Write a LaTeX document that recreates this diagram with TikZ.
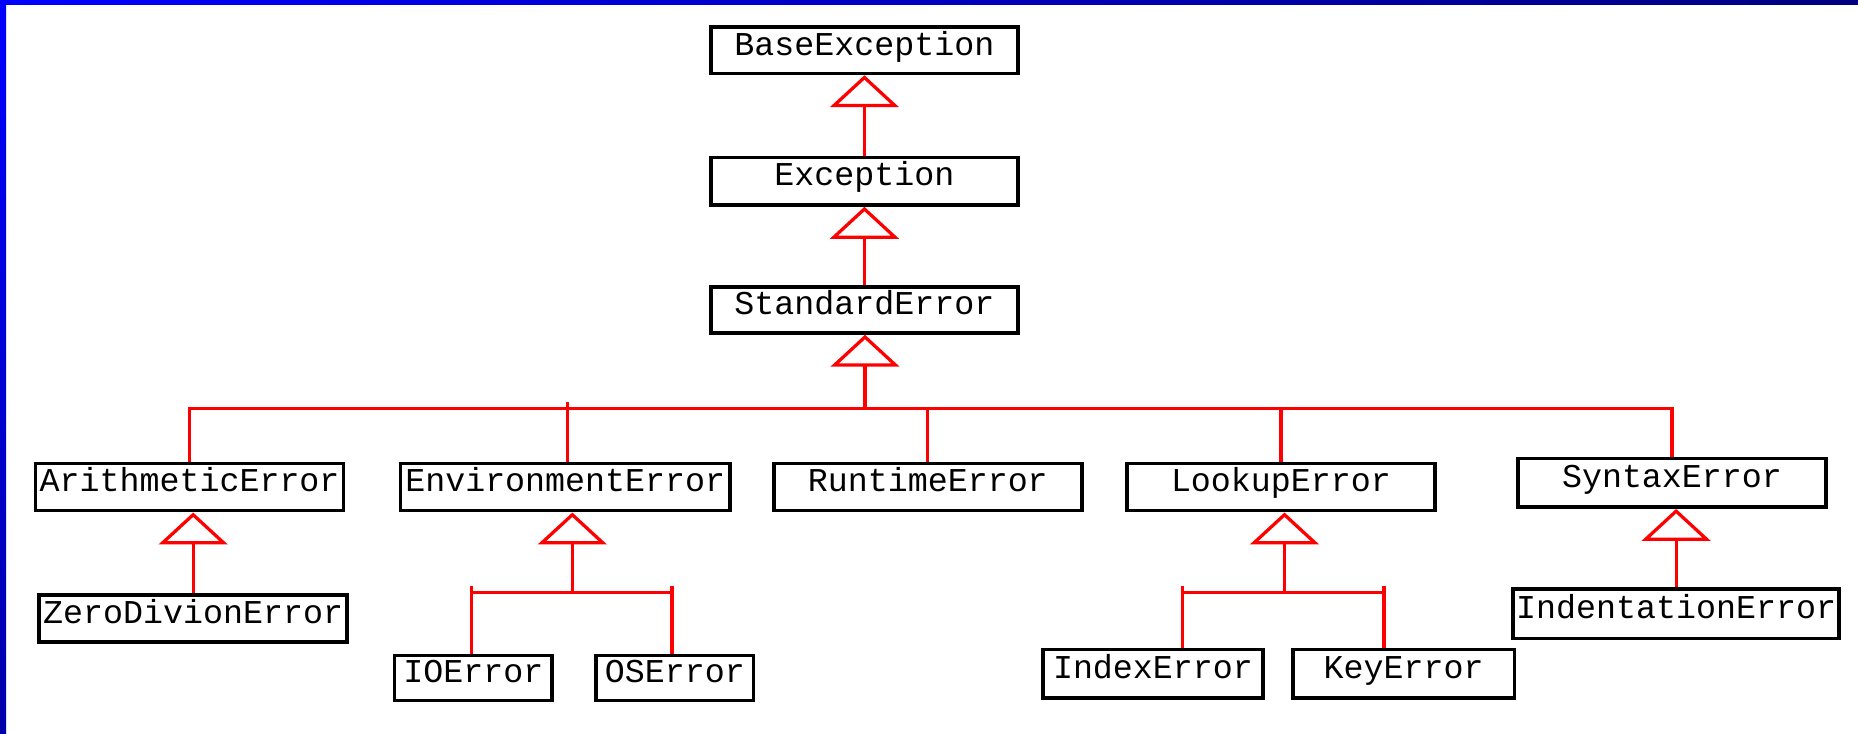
\documentclass[tikz,border=0pt]{standalone}
\usepackage{fontspec}
\setmonofont{Liberation Mono}
\usetikzlibrary{arrows.meta,calc}

\definecolor{navy}{RGB}{0,0,128}
\definecolor{darkblue}{RGB}{0,0,170}

\tikzset{
  cls/.style={draw, line width=0.06cm, inner sep=0pt, minimum height=0.8cm,
    font=\ttfamily\fontsize{16}{18}\selectfont, text height=0.7em, text depth=0.25em},
  link/.style={draw=red, line width=0.055cm},
  inh/.style={link, -{Triangle[open, width=1.16cm, length=0.54cm]}}
}

\begin{document}
\begin{tikzpicture}[x=0.02cm, y=-0.02cm]
        \fill [white] (0,0) rectangle (1568,619);
        \useasboundingbox (0,0) rectangle (1568,619);
        \shade [left color=blue, right color=navy] (0,0) rectangle (1568,4.2);
        \shade [top color=blue, bottom color=darkblue] (0,0) rectangle (5.1,619);
        % top of the tree
        \node [cls, minimum width=5.18cm, minimum height=0.78cm] (base) at (729.5,42.5) {BaseException};
        \node [cls, minimum width=5.18cm] (exc) at (729.5,153) {Exception};
        \node [cls, minimum width=5.18cm, minimum height=0.78cm] (std) at (729.5,261.5) {StandardError};
        % second row
        \node [cls, minimum width=5.2cm] (arith) at (160,411) {ArithmeticError};
        \node [cls, minimum width=5.56cm] (env) at (477,411) {EnvironmentError};
        \node [cls, minimum width=5.2cm] (rt) at (783,411) {RuntimeError};
        \node [cls, minimum width=5.2cm] (look) at (1081,411) {LookupError};
        \node [cls, minimum width=5.2cm, minimum height=0.82cm] (syn) at (1411,407.5) {SyntaxError};
        % third row
        \node [cls, minimum width=5.2cm] (zero) at (163,522) {ZeroDivionError};
        \node [cls, minimum width=2.66cm, minimum height=0.76cm] (io) at (399.5,572) {IOError};
        \node [cls, minimum width=2.66cm, minimum height=0.76cm] (os) at (569.5,572) {OSError};
        \node [cls, minimum width=3.72cm, minimum height=0.82cm] (idx) at (973,568.5) {IndexError};
        \node [cls, minimum width=3.74cm, minimum height=0.82cm] (key) at (1184.5,568.5) {KeyError};
        \node [cls, minimum width=5.5cm, minimum height=0.84cm] (ind) at (1414.5,518) {IndentationError};
        % bus points
        \coordinate (s) at (730,345);
        \coordinate (e) at (483,500);
        \coordinate (e1) at (398,500);
        \coordinate (e2) at (567,500);
        \coordinate (l) at (1084,500);
        \coordinate (l1) at (998,500);
        \coordinate (l2) at (1168,500);
        % inheritance
        \draw [inh] (exc) to (base);
        \draw [inh] (std) to (exc);
        \draw [inh] (s) to (s |- std.south);
        \draw [link] (arith.north) to (arith.north |- s) to (syn.north |- s) to (syn.north);
        \draw [link] (env.north) ++(2,0) to ++(0,-50);
        \draw [link] (rt.north) to (rt.north |- s);
        \draw [link] (look.north) to (look.north |- s);
        \draw [inh] (zero.north) to (zero.north |- arith.south);
        \draw [inh] (e) to (e |- env.south);
        \draw [link] (e1 |- io.north) to ++(0,-57);
        \draw [link] (e2 |- os.north) to ++(0,-57);
        \draw [link] (e1) to (e2);
        \draw [inh] (l) to (l |- look.south);
        \draw [link] (l1 |- idx.north) to ++(0,-52);
        \draw [link] (l2 |- key.north) to ++(0,-52);
        \draw [link] (l1) to (l2);
        \draw [inh] (ind.north) to (ind.north |- syn.south);
      \end{tikzpicture}
\end{document}
